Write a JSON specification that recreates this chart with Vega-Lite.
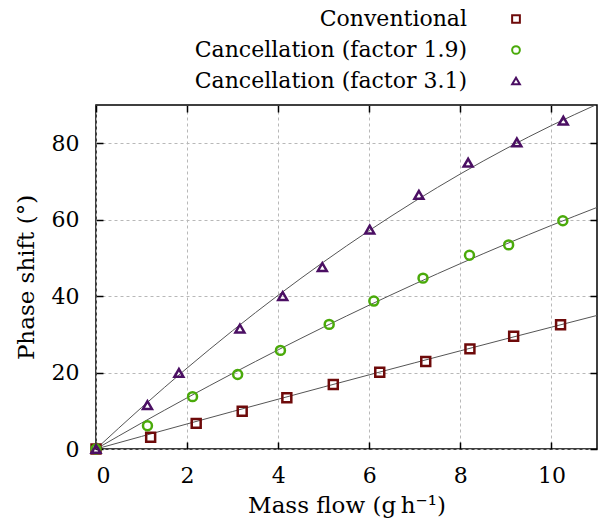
{
  "$schema": "https://vega.github.io/schema/vega-lite/v6.json",
  "width": 501,
  "height": 344,
  "autosize": {"type": "none"},
  "padding": {"left": 96, "top": 105, "right": 1, "bottom": 77},
  "background": "white",
  "config": {
    "font": "DejaVu Serif",
    "view": {"stroke": "black", "strokeWidth": 1.5},
    "axis": {
      "labelFont": "DejaVu Serif",
      "titleFont": "DejaVu Serif",
      "labelFontSize": 22,
      "titleFontSize": 23,
      "labelColor": "black",
      "titleColor": "black",
      "titleFontWeight": "normal",
      "domain": false,
      "tickColor": "black",
      "tickWidth": 1.5,
      "tickSize": -7,
      "gridColor": "#b8b8b8",
      "gridDash": [3, 3],
      "gridWidth": 1
    },
    "legend": {
      "labelFont": "DejaVu Serif",
      "labelFontSize": 22,
      "labelColor": "black",
      "labelLimit": 0
    }
  },
  "datasets": {
    "pts": [
      {"series": "Conventional", "x": 0, "y": 0},
      {"series": "Conventional", "x": 1.2, "y": 3.05},
      {"series": "Conventional", "x": 2.2, "y": 6.7},
      {"series": "Conventional", "x": 3.21, "y": 9.9},
      {"series": "Conventional", "x": 4.19, "y": 13.4},
      {"series": "Conventional", "x": 5.21, "y": 16.9},
      {"series": "Conventional", "x": 6.23, "y": 20.1},
      {"series": "Conventional", "x": 7.24, "y": 22.9},
      {"series": "Conventional", "x": 8.21, "y": 26.2},
      {"series": "Conventional", "x": 9.17, "y": 29.5},
      {"series": "Conventional", "x": 10.2, "y": 32.5},
      {"series": "Cancellation (factor 1.9)", "x": 0, "y": 0},
      {"series": "Cancellation (factor 1.9)", "x": 1.13, "y": 6.1},
      {"series": "Cancellation (factor 1.9)", "x": 2.12, "y": 13.7},
      {"series": "Cancellation (factor 1.9)", "x": 3.11, "y": 19.5},
      {"series": "Cancellation (factor 1.9)", "x": 4.05, "y": 25.8},
      {"series": "Cancellation (factor 1.9)", "x": 5.12, "y": 32.6},
      {"series": "Cancellation (factor 1.9)", "x": 6.1, "y": 38.7},
      {"series": "Cancellation (factor 1.9)", "x": 7.18, "y": 44.7},
      {"series": "Cancellation (factor 1.9)", "x": 8.2, "y": 50.7},
      {"series": "Cancellation (factor 1.9)", "x": 9.06, "y": 53.4},
      {"series": "Cancellation (factor 1.9)", "x": 10.25, "y": 59.7},
      {"series": "Cancellation (factor 3.1)", "x": 0, "y": 0},
      {"series": "Cancellation (factor 3.1)", "x": 1.13, "y": 11.5},
      {"series": "Cancellation (factor 3.1)", "x": 1.82, "y": 19.9},
      {"series": "Cancellation (factor 3.1)", "x": 3.16, "y": 31.5},
      {"series": "Cancellation (factor 3.1)", "x": 4.1, "y": 40.0},
      {"series": "Cancellation (factor 3.1)", "x": 4.97, "y": 47.6},
      {"series": "Cancellation (factor 3.1)", "x": 6.01, "y": 57.4},
      {"series": "Cancellation (factor 3.1)", "x": 7.09, "y": 66.5},
      {"series": "Cancellation (factor 3.1)", "x": 8.17, "y": 74.9},
      {"series": "Cancellation (factor 3.1)", "x": 9.24, "y": 80.2},
      {"series": "Cancellation (factor 3.1)", "x": 10.26, "y": 85.9}
    ],
    "fits": [
      {"series": "Conventional", "x": 0, "y": 0},
      {"series": "Conventional", "x": 1, "y": 3.29},
      {"series": "Conventional", "x": 2, "y": 6.56},
      {"series": "Conventional", "x": 3, "y": 9.81},
      {"series": "Conventional", "x": 4, "y": 13.03},
      {"series": "Conventional", "x": 5, "y": 16.23},
      {"series": "Conventional", "x": 6, "y": 19.41},
      {"series": "Conventional", "x": 7, "y": 22.56},
      {"series": "Conventional", "x": 8, "y": 25.69},
      {"series": "Conventional", "x": 9, "y": 28.8},
      {"series": "Conventional", "x": 10, "y": 31.88},
      {"series": "Conventional", "x": 11, "y": 34.94},
      {"series": "Cancellation (factor 1.9)", "x": 0, "y": 0},
      {"series": "Cancellation (factor 1.9)", "x": 1, "y": 6.8},
      {"series": "Cancellation (factor 1.9)", "x": 2, "y": 13.39},
      {"series": "Cancellation (factor 1.9)", "x": 3, "y": 19.77},
      {"series": "Cancellation (factor 1.9)", "x": 4, "y": 25.94},
      {"series": "Cancellation (factor 1.9)", "x": 5, "y": 31.9},
      {"series": "Cancellation (factor 1.9)", "x": 6, "y": 37.64},
      {"series": "Cancellation (factor 1.9)", "x": 7, "y": 43.18},
      {"series": "Cancellation (factor 1.9)", "x": 8, "y": 48.5},
      {"series": "Cancellation (factor 1.9)", "x": 9, "y": 53.61},
      {"series": "Cancellation (factor 1.9)", "x": 10, "y": 58.51},
      {"series": "Cancellation (factor 1.9)", "x": 11, "y": 63.2},
      {"series": "Cancellation (factor 3.1)", "x": 0, "y": 0},
      {"series": "Cancellation (factor 3.1)", "x": 1, "y": 10.85},
      {"series": "Cancellation (factor 3.1)", "x": 2, "y": 21.18},
      {"series": "Cancellation (factor 3.1)", "x": 3, "y": 30.97},
      {"series": "Cancellation (factor 3.1)", "x": 4, "y": 40.23},
      {"series": "Cancellation (factor 3.1)", "x": 5, "y": 48.96},
      {"series": "Cancellation (factor 3.1)", "x": 6, "y": 57.16},
      {"series": "Cancellation (factor 3.1)", "x": 7, "y": 64.82},
      {"series": "Cancellation (factor 3.1)", "x": 8, "y": 71.96},
      {"series": "Cancellation (factor 3.1)", "x": 9, "y": 78.56},
      {"series": "Cancellation (factor 3.1)", "x": 10, "y": 84.63},
      {"series": "Cancellation (factor 3.1)", "x": 11, "y": 90.17}
    ]
  },
  "layer": [
    {
      "data": {"name": "fits"},
      "mark": {"type": "line", "color": "#555555", "strokeWidth": 1, "clip": true, "interpolate": "monotone"},
      "encoding": {
        "x": {
          "field": "x", "type": "quantitative",
          "scale": {"domain": [0, 11], "nice": false, "zero": false},
          "axis": {"orient": "bottom", "values": [0, 2, 4, 6, 8, 10], "title": "Mass flow (g\u2009h\u207b\u00b9)", "labelPadding": 23, "titlePadding": 8, "grid": true}
        },
        "y": {
          "field": "y", "type": "quantitative",
          "scale": {"domain": [0, 90], "nice": false},
          "axis": {"orient": "left", "values": [0, 20, 40, 60, 80], "title": "Phase shift (°)", "labelPadding": 24, "titlePadding": 13, "grid": true}
        },
        "detail": {"field": "series"}
      }
    },
    {
      "data": {"name": "pts"},
      "mark": {"type": "point", "filled": false, "strokeWidth": 2.5, "size": 80, "opacity": 1, "clip": false},
      "encoding": {
        "x": {
          "field": "x", "type": "quantitative",
          "axis": {"orient": "top", "values": [0, 2, 4, 6, 8, 10], "labels": false, "title": null, "grid": false}
        },
        "y": {
          "field": "y", "type": "quantitative",
          "axis": {"orient": "right", "values": [0, 20, 40, 60, 80], "labels": false, "title": null, "grid": false}
        },
        "color": {
          "field": "series", "type": "nominal",
          "scale": {
            "domain": ["Conventional", "Cancellation (factor 1.9)", "Cancellation (factor 3.1)"],
            "range": ["#6e0a0a", "#4aaa0a", "#4b0f63"]
          },
          "legend": {
            "title": null,
            "orient": "none",
            "legendX": 409,
            "legendY": -97,
            "labelAlign": "right",
            "labelOffset": -60,
            "rowPadding": 9,
            "symbolStrokeWidth": 2,
            "symbolSize": 60,
            "symbolOpacity": 1
          }
        },
        "shape": {
          "field": "series", "type": "nominal",
          "scale": {
            "domain": ["Conventional", "Cancellation (factor 1.9)", "Cancellation (factor 3.1)"],
            "range": ["square", "circle", "triangle-up"]
          },
          "legend": {
            "title": null,
            "orient": "none",
            "legendX": 409,
            "legendY": -97,
            "labelAlign": "right",
            "labelOffset": -60,
            "rowPadding": 9,
            "symbolStrokeWidth": 2,
            "symbolSize": 60,
            "symbolOpacity": 1
          }
        }
      }
    }
  ],
  "resolve": {"axis": {"x": "independent", "y": "independent"}}
}
